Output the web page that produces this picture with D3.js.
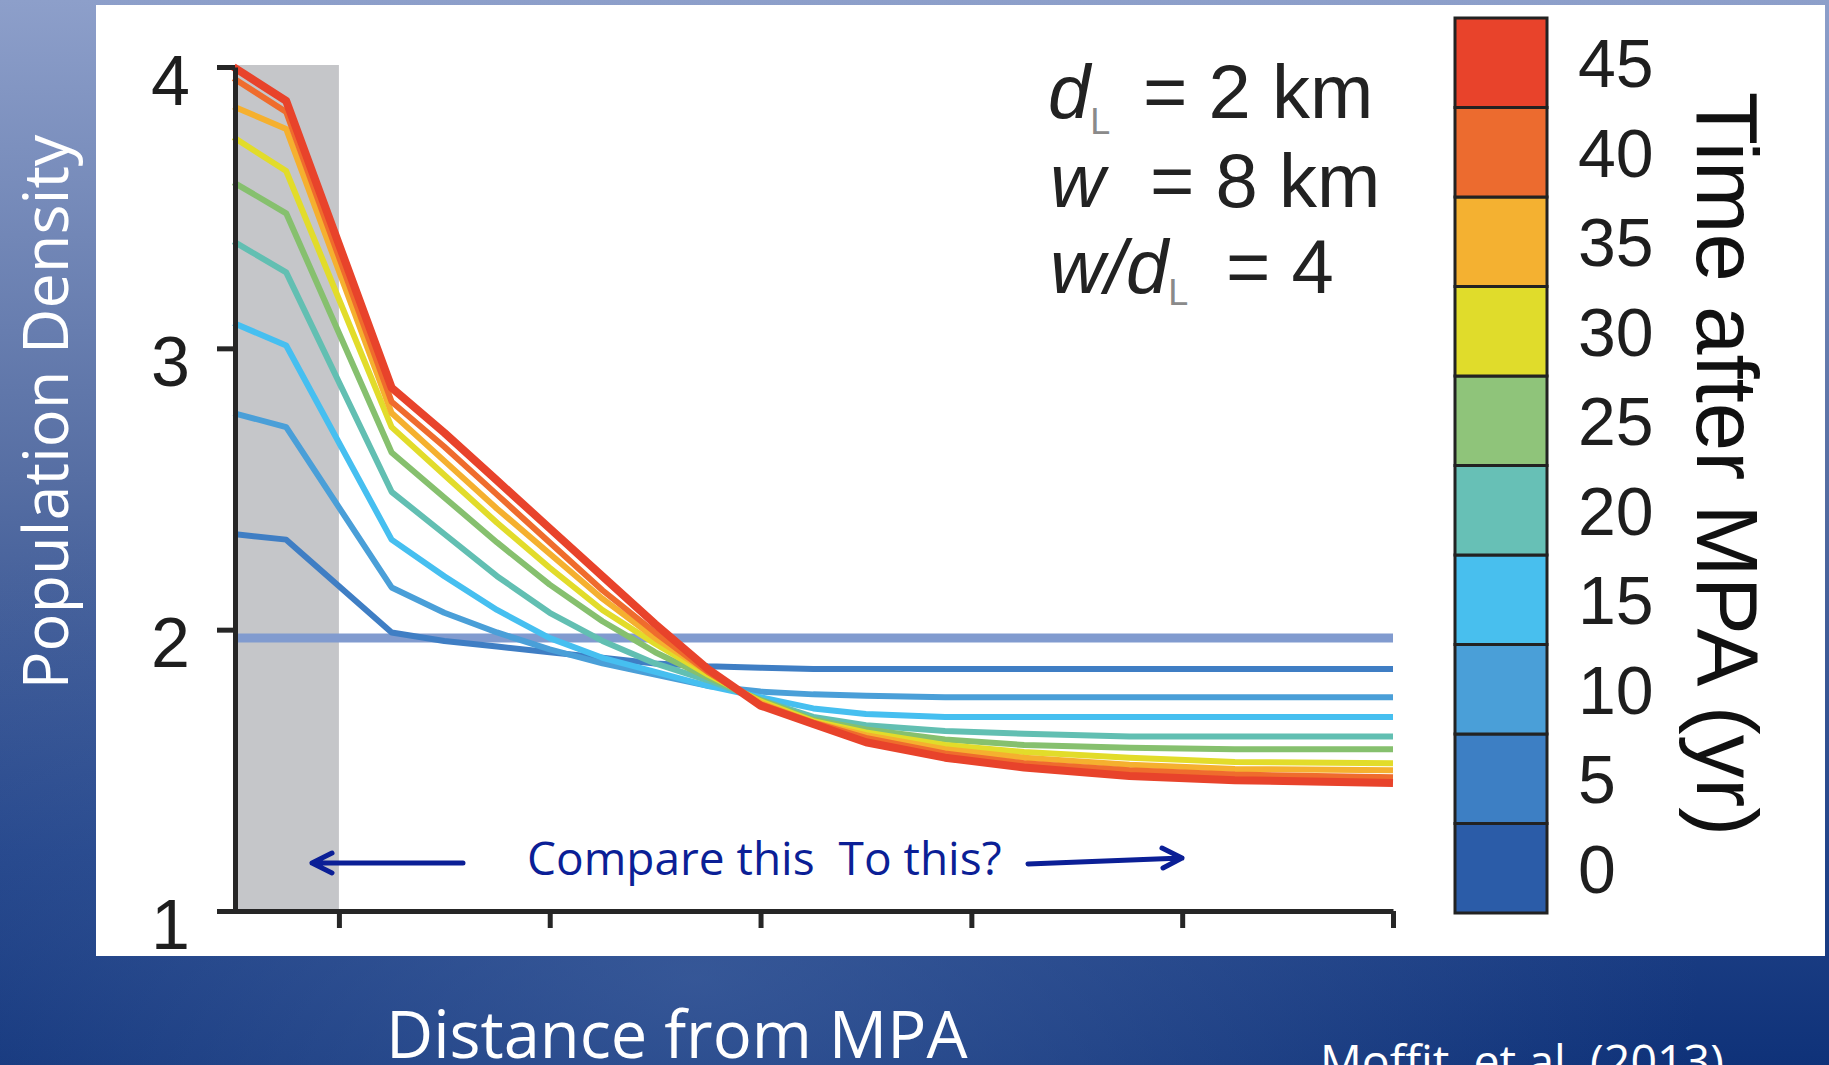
<!DOCTYPE html>
<html>
<head>
<meta charset="utf-8">
<script src="https://cdn.jsdelivr.net/npm/d3@7"></script>
<style>
  body { margin: 0; background: #1a3a80; }
  svg { display: block; }
</style>
</head>
<body>
<script>
// size of the slide
const width = 1829;
const height = 1065;

// time after MPA (yr), one line each
const years = [0, 5, 10, 15, 20, 25, 30, 35, 40, 45];

// distance from MPA centre (km)
const distance = [0, 2, 6, 8, 10, 12, 14, 16, 18, 20, 22, 24, 27, 30, 34, 38, 44];

// population density
const density0  = [1.97, 1.97, 1.97, 1.97, 1.97, 1.97, 1.97, 1.97, 1.97, 1.97, 1.97, 1.97, 1.97, 1.97, 1.97, 1.97, 1.97];
const density5  = [2.34, 2.32, 1.99, 1.96, 1.94, 1.92, 1.90, 1.88, 1.87, 1.865, 1.86, 1.86, 1.86, 1.86, 1.86, 1.86, 1.86];
const density10 = [2.77, 2.72, 2.15, 2.06, 1.99, 1.93, 1.88, 1.84, 1.80, 1.78, 1.77, 1.765, 1.76, 1.76, 1.76, 1.76, 1.76];
const density15 = [3.09, 3.01, 2.32, 2.19, 2.07, 1.97, 1.90, 1.85, 1.80, 1.76, 1.72, 1.70, 1.69, 1.69, 1.69, 1.69, 1.69];
const density20 = [3.38, 3.27, 2.49, 2.34, 2.19, 2.06, 1.96, 1.88, 1.82, 1.75, 1.69, 1.66, 1.64, 1.63, 1.62, 1.62, 1.62];
const density25 = [3.59, 3.48, 2.63, 2.47, 2.31, 2.16, 2.03, 1.92, 1.83, 1.75, 1.68, 1.645, 1.61, 1.59, 1.58, 1.575, 1.575];
const density30 = [3.75, 3.63, 2.72, 2.55, 2.38, 2.22, 2.07, 1.95, 1.84, 1.745, 1.675, 1.635, 1.59, 1.565, 1.545, 1.53, 1.525];
const density35 = [3.86, 3.78, 2.77, 2.60, 2.43, 2.27, 2.11, 1.97, 1.85, 1.74, 1.67, 1.625, 1.575, 1.545, 1.52, 1.505, 1.50];
const density40 = [3.96, 3.84, 2.81, 2.65, 2.48, 2.31, 2.14, 1.99, 1.85, 1.735, 1.67, 1.615, 1.56, 1.525, 1.50, 1.485, 1.475];
const density45 = [4.00, 3.88, 2.86, 2.70, 2.53, 2.36, 2.19, 2.02, 1.86, 1.73, 1.665, 1.60, 1.545, 1.51, 1.48, 1.465, 1.455];

const allDensity = [density0, density5, density10, density15, density20,
  density25, density30, density35, density40, density45];

// axis ticks
const yTicks = [1, 2, 3, 4];
const xTicks = [4, 12, 20, 28, 36, 44];
const mpaEdge = 4; // half of w = 8 km

// colours for each year (legend + lines)
const legendColors = ['#2b5ca8', '#3d7fc4', '#4a9fd8', '#48bfee', '#67c0b6',
  '#8fc47a', '#e0dc2b', '#f4b131', '#ec6b2f', '#e8432b'];
const lineColors = ['#819bcf', '#3f7ec4', '#4a9fd8', '#46bff0', '#62bfb2',
  '#86c06e', '#e2dc2a', '#f5b02f', '#ef6c2d', '#e8432b'];

let svg = d3.select('body')
  .append('svg')
  .attr('width', width)
  .attr('height', height);

// background gradient (slide)
let defs = svg.append('defs');
let bgGrad = defs.append('linearGradient')
  .attr('id', 'bg')
  .attr('x1', 0).attr('y1', 0).attr('x2', 0).attr('y2', 1);
bgGrad.append('stop').attr('offset', '0%').attr('stop-color', '#8d9fca');
bgGrad.append('stop').attr('offset', '45%').attr('stop-color', '#566ea3');
bgGrad.append('stop').attr('offset', '80%').attr('stop-color', '#22448a');
bgGrad.append('stop').attr('offset', '100%').attr('stop-color', '#0f3279');

let glow = defs.append('radialGradient')
  .attr('id', 'glow')
  .attr('cx', 0.38).attr('cy', 0.92).attr('r', 0.55);
glow.append('stop').attr('offset', '0%').attr('stop-color', '#4a6aa6').attr('stop-opacity', 0.6);
glow.append('stop').attr('offset', '100%').attr('stop-color', '#4a6aa6').attr('stop-opacity', 0);

svg.append('rect')
  .attr('width', width).attr('height', height)
  .attr('fill', 'url(#bg)');
svg.append('rect')
  .attr('width', width).attr('height', height)
  .attr('fill', 'url(#glow)');

// white picture panel
svg.append('rect')
  .attr('x', 96).attr('y', 5)
  .attr('width', 1729).attr('height', 951)
  .attr('fill', '#fff');

let x = d3.scaleLinear()
  .domain([0, 44])
  .range([233.5, 1393]);

let y = d3.scaleLinear()
  .domain([1, 4])
  .range([911, 67]);

// MPA shading
svg.append('rect')
  .attr('x', x(0))
  .attr('y', y(4) - 2)
  .attr('width', x(mpaEdge) - x(0))
  .attr('height', y(1) - y(4) + 2)
  .attr('fill', '#c5c6c9');

let line = d3.line()
  .x((d, i) => x(distance[i]))
  .y(d => y(d));

svg.append('g')
  .selectAll('path')
  .data(allDensity)
  .enter()
  .append('path')
  .attr('d', line)
  .attr('fill', 'none')
  .attr('stroke', (d, i) => lineColors[i])
  .attr('stroke-width', (d, i) => i === 0 ? 9 : (i === 9 ? 8 : 6))
  .attr('stroke-linejoin', 'round');

// axes
let yAxis = g => g
  .attr('transform', `translate(235,0)`)
  .call(d3.axisLeft(y).tickValues(yTicks).tickFormat(d3.format('d'))
    .tickSize(18).tickSizeOuter(0).tickPadding(27))
  .call(g => g.selectAll('line, path').attr('stroke', '#262626').attr('stroke-width', 5))
  .call(g => g.selectAll('text')
    .attr('dy', '0.53em')
    .attr('fill', '#1e1e1e')
    .attr('font-family', 'Liberation Sans, Arial, sans-serif')
    .attr('font-size', 70));

let xAxis = g => g
  .attr('transform', `translate(0,911)`)
  .call(d3.axisBottom(x).tickValues(xTicks).tickSize(17).tickSizeOuter(0).tickFormat(''))
  .call(g => g.selectAll('line, path').attr('stroke', '#262626').attr('stroke-width', 5));

svg.append('g').call(xAxis);
svg.append('g').call(yAxis);

// parameter text
let params = svg.append('g')
  .attr('font-family', 'Liberation Sans, Arial, sans-serif')
  .attr('font-size', 76)
  .attr('fill', '#222');

let p1 = params.append('text').attr('x', 1048).attr('y', 118);
p1.append('tspan').attr('font-style', 'italic').text('d');
p1.append('tspan').attr('font-size', 36).attr('fill', '#8a8a8a').attr('dy', 16).text('L');
p1.append('tspan').attr('x', 1143).attr('dy', -16).text('= 2 km');

let p2 = params.append('text').attr('x', 1050).attr('y', 207);
p2.append('tspan').attr('font-style', 'italic').text('w');
p2.append('tspan').attr('x', 1150).text('= 8 km');

let p3 = params.append('text').attr('x', 1050).attr('y', 293);
p3.append('tspan').attr('font-style', 'italic').text('w/d');
p3.append('tspan').attr('font-size', 36).attr('fill', '#8a8a8a').attr('dy', 12).text('L');
p3.append('tspan').attr('x', 1226).attr('dy', -12).text('= 4');

// colour bar
let band = d3.scaleBand()
  .domain(years.slice().reverse())
  .range([18, 913]);

let bar = svg.append('g');
bar.selectAll('rect')
  .data(years)
  .enter()
  .append('rect')
  .attr('x', 1455)
  .attr('y', d => band(d))
  .attr('width', 92)
  .attr('height', band.bandwidth())
  .attr('fill', (d, i) => legendColors[i])
  .attr('stroke', '#222')
  .attr('stroke-width', 3);

bar.selectAll('text')
  .data(years)
  .enter()
  .append('text')
  .attr('x', 1578)
  .attr('y', d => band(d) + band.bandwidth() / 2)
  .attr('dy', '0.36em')
  .attr('font-family', 'Liberation Sans, Arial, sans-serif')
  .attr('font-size', 68)
  .attr('fill', '#1e1e1e')
  .text(d => d);

svg.append('text')
  .attr('transform', 'translate(1697,464) rotate(90)')
  .attr('text-anchor', 'middle')
  .attr('font-family', 'Liberation Sans, Arial, sans-serif')
  .attr('font-size', 87)
  .attr('fill', '#111')
  .text('Time after MPA (yr)');

// "compare" annotation with arrows
svg.append('text')
  .attr('x', 527)
  .attr('y', 875)
  .attr('xml:space', 'preserve')
  .style('white-space', 'pre')
  .attr('font-family', 'Open Sans, sans-serif')
  .attr('font-size', 46)
  .attr('fill', '#0b1f96')
  .text('Compare this  To this?');

let arrows = svg.append('g')
  .attr('fill', 'none')
  .attr('stroke', '#0b1f96')
  .attr('stroke-width', 5)
  .attr('stroke-linecap', 'round')
  .attr('stroke-linejoin', 'round');
arrows.append('path').attr('d', 'M463,863 L312,863 M332,853 L312,863 L332,873');
arrows.append('path').attr('d', 'M1028,864 L1182,858 M1162,848 L1182,858 L1163,868');

// slide labels
svg.append('text')
  .attr('transform', 'translate(68,412) rotate(-90)')
  .attr('text-anchor', 'middle')
  .attr('font-family', 'Open Sans, sans-serif')
  .attr('font-size', 63)
  .attr('fill', '#fff')
  .text('Population Density');

svg.append('text')
  .attr('x', 386)
  .attr('y', 1058)
  .attr('font-family', 'Open Sans, sans-serif')
  .attr('font-size', 65)
  .attr('fill', '#fff')
  .text('Distance from MPA');

svg.append('text')
  .attr('x', 1320)
  .attr('y', 1078)
  .attr('font-family', 'Open Sans, sans-serif')
  .attr('font-size', 46.5)
  .attr('fill', '#fff')
  .text('Moffit, et al. (2013)');
</script>
</body>
</html>
